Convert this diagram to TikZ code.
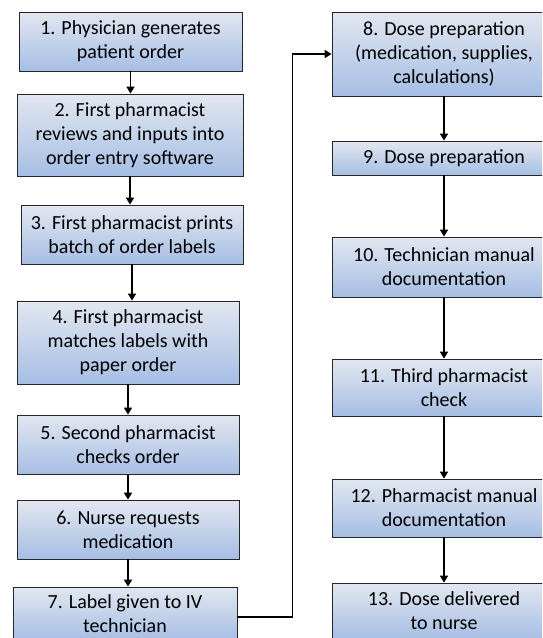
\documentclass[tikz,border=0pt]{standalone}
\usepackage{fontspec}
\setmainfont{Carlito}
\usetikzlibrary{arrows.meta}
\definecolor{boxtop}{RGB}{226,231,240}
\definecolor{boxbot}{RGB}{166,190,228}
\begin{document}
\begin{tikzpicture}[x=1pt,y=-1pt,>={Triangle[length=7pt,width=8pt]},
	font=\fontsize{20}{24}\selectfont,
	proc/.style={draw=black!85,line width=0.8pt,top color=boxtop,bottom color=boxbot,
		align=center,inner sep=0pt,minimum height=#1},
	proc/.default=59,
	flow/.style={->,line width=1.6pt}]
	\clip (0,0) rectangle (542,638);
	% left column
	\node[proc,minimum width=223] (s1) at (130.5,41.5) {1. Physician generates\\patient order};
	\node[proc=82,minimum width=226] (s2) at (130,135) {2. First pharmacist\\reviews and inputs into\\order entry software};
	\node[proc,minimum width=222] (s3) at (132,234.5) {3. First pharmacist prints\\batch of order labels};
	\node[proc=83,minimum width=222] (s4) at (128,342.5) {4. First pharmacist\\matches labels with\\paper order};
	\node[proc,minimum width=222] (s5) at (128,444.5) {5. Second pharmacist\\checks order};
	\node[proc,minimum width=222] (s6) at (128,529.5) {6. Nurse requests\\medication};
	\node[proc=54,minimum width=224] (s7) at (125,614) {7. Label given to IV\\technician};
	% right column
	\node[proc=84,minimum width=224] (s8) at (444,54) {8. Dose preparation\\(medication, supplies,\\calculations)};
	\node[proc=34,minimum width=224] (s9) at (444,158) {9. Dose preparation};
	\node[proc=60,minimum width=224] (s10) at (444,267) {10. Technician manual\\documentation};
	\node[proc=57,minimum width=224] (s11) at (444,387.5) {11. Third pharmacist\\check};
	\node[proc=58,minimum width=224] (s12) at (444,508) {12. Pharmacist manual\\documentation};
	\node[proc=56,minimum width=224] (s13) at (444,611) {13. Dose delivered\\to nurse};
	% arrows
	\foreach \a/\b in {s1/s2,s2/s3,s3/s4,s4/s5,s5/s6,s6/s7,s8/s9,s9/s10,s10/s11,s11/s12,s12/s13}
		\draw[flow] (\a.south) -- (\a.south |- \b.north);
	\draw[flow] (s7.east) ++(0,3) -- ++(55,0) |- (s8.west);
\end{tikzpicture}
\end{document}
